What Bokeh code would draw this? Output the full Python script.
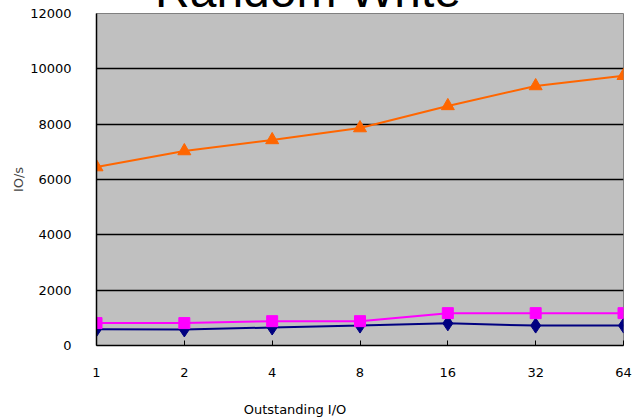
from bokeh.plotting import figure
from bokeh.models import FixedTicker, ColumnDataSource, Div
from bokeh.layouts import column
from bokeh.embed import file_html
from bokeh.resources import INLINE

# ---- data ----
title_text = "Random Write"
x_title = "Outstanding I/O"
y_title = "IO/s"
x_labels = ["1", "2", "4", "8", "16", "32", "64"]
series_orange = [6450, 7030, 7430, 7860, 8660, 9380, 9750]
series_pink = [810, 810, 880, 880, 1170, 1170, 1170]
series_navy = [590, 580, 650, 720, 800, 720, 720]
y_ticks = [0, 2000, 4000, 6000, 8000, 10000, 12000]

xs = list(range(len(x_labels)))
src = ColumnDataSource(dict(x=xs, o=series_orange, p=series_pink, n=series_navy))

font = "DejaVu Sans"

# title: only its lower part is visible at the very top, as in the reference
title_div = Div(
    text=('<div style="position:relative; top:-33px; width:624px; padding-right:8px; '
          'font-family:\'Liberation Sans\'; font-size:48px; line-height:48px; '
          'text-align:center; white-space:nowrap; color:black;">' + title_text + '</div>'),
    width=632, height=8, margin=0)

p = figure(width=632, height=387, output_backend="svg", toolbar_location=None,
           x_range=(0, len(x_labels) - 1), y_range=(0, 12000),
           min_border_left=96, min_border_right=9, min_border_top=5, min_border_bottom=50)
p.margin = 0
p.background_fill_color = "#C0C0C0"
p.border_fill_color = "white"
p.outline_line_color = "#808080"
p.outline_line_width = 1

p.xgrid.visible = False
p.ygrid.grid_line_color = "black"
p.ygrid.grid_line_width = 1.5
p.ygrid.ticker = FixedTicker(ticks=y_ticks)

p.yaxis.ticker = FixedTicker(ticks=y_ticks)
p.yaxis.major_tick_line_color = None
p.yaxis.minor_tick_line_color = None
p.yaxis.axis_line_color = "black"
p.yaxis.axis_line_width = 1.5
p.yaxis.major_label_text_font = font
p.yaxis.major_label_text_font_size = "13px"
p.yaxis.major_label_text_color = "black"
p.yaxis.major_label_standoff = 19
p.yaxis.axis_label = y_title
p.yaxis.axis_label_text_font = font
p.yaxis.axis_label_text_font_style = "normal"
p.yaxis.axis_label_text_font_size = "13px"
p.yaxis.axis_label_standoff = 1

p.xaxis.ticker = FixedTicker(ticks=xs)
p.xaxis.major_label_overrides = {i: s for i, s in enumerate(x_labels)}
p.xaxis.major_tick_in = 5
p.xaxis.major_tick_out = 0
p.xaxis.major_tick_line_color = "black"
p.xaxis.minor_tick_line_color = None
p.xaxis.axis_line_color = "black"
p.xaxis.axis_line_width = 1.5
p.xaxis.major_label_text_font = font
p.xaxis.major_label_text_font_size = "13px"
p.xaxis.major_label_text_color = "black"
p.xaxis.major_label_standoff = 22

p.line("x", "n", source=src, line_color="#000080", line_width=2)
p.scatter("x", "n", source=src, marker="diamond", size=15, fill_color="#000080", line_color="#000080")
p.line("x", "p", source=src, line_color="#FF00FF", line_width=2)
p.scatter("x", "p", source=src, marker="square", size=11, fill_color="#FF00FF", line_color="#FF00FF")
p.line("x", "o", source=src, line_color="#FF6600", line_width=2)
p.scatter("x", "o", source=src, marker="triangle", size=13, fill_color="#FF6600", line_color="#FF6600")

# x-axis title, left of centre as in the reference
xlabel_div = Div(
    text=('<div style="width:590px; padding-top:8px; font-family:\'DejaVu Sans\'; '
          'font-size:13px; line-height:13px; text-align:center; white-space:nowrap; '
          'color:black;">' + x_title + '</div>'),
    width=632, height=25, margin=0)

layout = column(title_div, p, xlabel_div, spacing=0, margin=0)
open("out.html", "w").write(file_html(layout, INLINE))
